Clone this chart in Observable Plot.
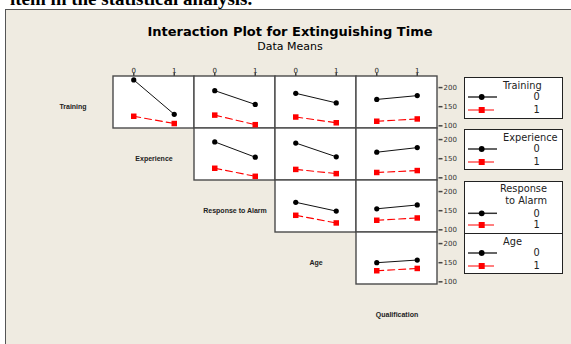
<!DOCTYPE html>
<html>
<head>
<meta charset="utf-8">
<script src="https://cdn.jsdelivr.net/npm/d3@7"></script>
<script src="https://cdn.jsdelivr.net/npm/@observablehq/plot@0.6"></script>
<style>
  html, body { margin: 0; padding: 0; }
  body { width: 571px; height: 344px; overflow: hidden; position: relative; background: #fff; font-family: "DejaVu Sans", sans-serif; }
  #lead { position: absolute; left: 10px; top: -12px; font: bold 19px "Liberation Serif", serif; color: #000; white-space: nowrap; }
  #panel { position: absolute; left: 5px; top: 9px; width: 620px; height: 400px; background: #EFEBE1; border-left: 1.5px solid #555; border-top: 1.5px solid #555; }
  #title { position: absolute; left: 0; width: 580px; top: 24px; text-align: center; font: bold 13px "DejaVu Sans", sans-serif; color: #000; line-height: 15px; }
  #subtitle { position: absolute; left: 0; width: 580px; top: 40px; text-align: center; font: 11px "DejaVu Sans", sans-serif; color: #000; line-height: 13px; }
  #chart, #legend { position: absolute; left: 0; top: 0; }
</style>
</head>
<body>
<div id="lead">item in the statistical analysis.</div>
<div id="panel"></div>
<div id="title">Interaction Plot for Extinguishing Time</div>
<div id="subtitle">Data Means</div>
<div id="chart"></div>
<div id="legend"></div>
<script>
// Factors, in matrix order (rows carry the trace factor, columns the x-axis factor)
const factors = ["Training", "Experience", "Response to Alarm", "Age", "Qualification"];
const levels = [0, 1];
const yTickValues = [100, 150, 200];

// Each panel: trace factor index and x-axis factor index
const traceFactor = [0, 0, 0, 0, 1, 1, 1, 2, 2, 3];
const axisFactor  = [1, 2, 3, 4, 2, 3, 4, 3, 4, 4];

// Mean extinguishing time at x = 0 and x = 1, trace level 0 (black) and level 1 (red)
const meansLevel0 = [[220, 130], [192, 156], [185, 160], [169, 179], [194, 154], [191, 155], [167, 179], [172, 149], [155, 165], [150, 157]];
const meansLevel1 = [[125, 106], [128, 103], [123, 108], [112, 118], [125, 104], [122, 111], [114, 119], [138, 118], [125, 131], [129, 135]];

// Legend titles, one box per trace factor
const legendTitles = [["Training"], ["Experience"], ["Response", "to Alarm"], ["Age"]];

// Tidy rows for the marks
const points = [];
traceFactor.forEach((row, k) => {
  const col = axisFactor[k];
  levels.forEach(x => {
    points.push({row, col, x, level: 0, mean: meansLevel0[k][x]});
    points.push({row, col, x, level: 1, mean: meansLevel1[k][x]});
  });
});
const cells = traceFactor.map((row, k) => ({row, col: axisFactor[k]}));
const diagonal = factors.map((name, i) => ({row: i, col: i, name}));
const topTicks = cells.filter(d => d.row === 0).flatMap(d => levels.map(v => ({...d, v})));
const rightTicks = cells.filter(d => d.col === factors.length - 1).flatMap(d => yTickValues.map(v => ({...d, v})));

// Short tick glyphs for the hand-placed axes
const vTick = {draw(ctx) { ctx.moveTo(0, -1.5); ctx.lineTo(0, 1.5); }};
const hTick = {draw(ctx) { ctx.moveTo(-2, 0); ctx.lineTo(2, 0); }};

const facet = {fx: "col", fy: "row"};
const chart = Plot.plot({
  width: 571,
  height: 344,
  marginLeft: 32,
  marginTop: 76,
  marginRight: 134,
  marginBottom: 8,
  style: {background: "transparent", overflow: "visible", fontFamily: "DejaVu Sans, sans-serif"},
  x: {domain: [-0.5, 1.5], axis: null},
  y: {domain: [93, 229], axis: null},
  fx: {domain: d3.range(factors.length), padding: 0, axis: null},
  fy: {domain: d3.range(factors.length), padding: 0, axis: null},
  marks: [
    Plot.rect(cells, {...facet, fill: "white", stroke: "#4a4a4a", strokeWidth: 1.4}),
    Plot.text(diagonal, {...facet, text: "name", frameAnchor: "middle", dy: 4, fontSize: 7, fontWeight: "bold", fontFamily: "Liberation Sans, sans-serif", fill: "#222"}),
    Plot.dot(topTicks, {...facet, x: "v", frameAnchor: "top", dy: -2, symbol: vTick, stroke: "#444", fill: "none"}),
    Plot.text(topTicks, {...facet, x: "v", text: "v", frameAnchor: "top", dy: -8.5, fontSize: 7, fill: "#222"}),
    Plot.dot(rightTicks, {...facet, y: "v", frameAnchor: "right", dx: 3, symbol: hTick, stroke: "#444", fill: "none"}),
    Plot.text(rightTicks, {...facet, y: "v", text: "v", frameAnchor: "right", dx: 6, textAnchor: "start", fontSize: 7, fill: "#333"}),
    Plot.line(points.filter(d => d.level === 0), {...facet, x: "x", y: "mean", stroke: "#111", strokeWidth: 1}),
    Plot.line(points.filter(d => d.level === 1), {...facet, x: "x", y: "mean", stroke: "#ff0000", strokeWidth: 1.1, strokeDasharray: "7,4"}),
    Plot.dot(points.filter(d => d.level === 0), {...facet, x: "x", y: "mean", r: 2.6, fill: "#000", stroke: "none"}),
    Plot.dot(points.filter(d => d.level === 1), {...facet, x: "x", y: "mean", r: 3.1, symbol: "square", fill: "#ff0000", stroke: "none"})
  ]
});
document.getElementById("chart").append(chart);

// Legend boxes, one beside each row of panels
const svg = d3.select("#legend").append("svg").attr("width", 571).attr("height", 344);
const boxLeft = 464, boxWidth = 98;
const boxes = [{top: 77, h: 41}, {top: 129, h: 40}, {top: 181, h: 52}, {top: 233, h: 40}];
legendTitles.forEach((lines, i) => {
  const {top, h} = boxes[i];
  const g = svg.append("g").attr("font-family", "DejaVu Sans, sans-serif").attr("font-size", 9.8).attr("fill", "#222");
  g.append("rect").attr("x", boxLeft + 0.5).attr("y", top + 0.5).attr("width", boxWidth).attr("height", h)
    .attr("fill", "white").attr("stroke", "#222").attr("stroke-width", 1);
  if (lines.length === 1) {
    g.append("text").attr("x", boxLeft + 39).attr("y", top + 8.5).attr("dy", "0.35em").text(lines[0]);
  } else {
    lines.forEach((t, j) => g.append("text").attr("x", boxLeft + 83).attr("y", top + 7.5 + j * 12.4)
      .attr("dy", "0.35em").attr("text-anchor", "end").text(t));
  }
  const rowY = lines.length === 1 ? [top + 20, top + 33] : [top + 32.3, top + 44];
  // level 0: black line with circle
  g.append("line").attr("x1", boxLeft + 4).attr("x2", boxLeft + 33).attr("y1", rowY[0]).attr("y2", rowY[0]).attr("stroke", "#333").attr("stroke-width", 1.5);
  g.append("circle").attr("cx", boxLeft + 17.7).attr("cy", rowY[0]).attr("r", 2.9).attr("fill", "#000");
  // level 1: red line with square
  g.append("line").attr("x1", boxLeft + 4).attr("x2", boxLeft + 30).attr("y1", rowY[1]).attr("y2", rowY[1]).attr("stroke", "#ff0000").attr("stroke-width", 1);
  g.append("rect").attr("x", boxLeft + 14.7).attr("y", rowY[1] - 3).attr("width", 6).attr("height", 6).attr("fill", "#ff0000");
  levels.forEach((lv, j) => g.append("text").attr("x", boxLeft + 72.7).attr("y", rowY[j]).attr("dy", "0.35em")
    .attr("text-anchor", "middle").text(lv));
});
</script>
</body>
</html>
